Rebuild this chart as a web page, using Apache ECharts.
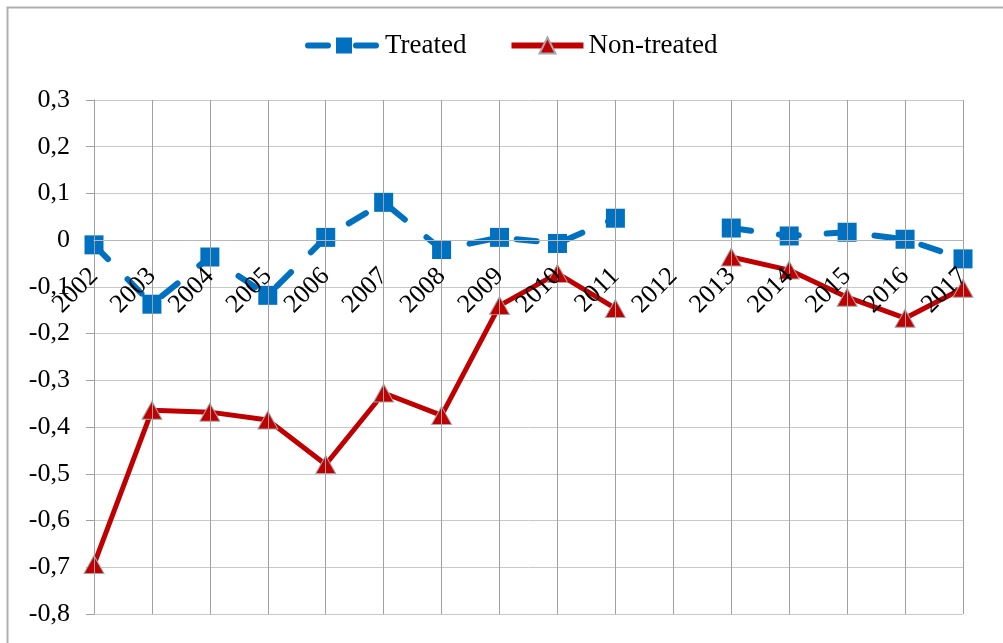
<!DOCTYPE html>
<html>
<head>
<meta charset="utf-8">
<script src="https://cdn.jsdelivr.net/npm/echarts@6/dist/echarts.min.js"></script>
<style>html,body{margin:0;padding:0;background:#fff}#c{width:1003px;height:643px}</style>
</head>
<body>
<div id="c"></div>
<script>
var years = ['2002','2003','2004','2005','2006','2007','2008','2009','2010','2011','2012','2013','2014','2015','2016','2017'];
var treated = [-0.010,-0.137,-0.036,-0.118,0.006,0.081,-0.020,0.006,-0.007,0.047,null,0.026,0.009,0.017,0.002,-0.040];
var nonTreated = [-0.694,-0.364,-0.368,-0.385,-0.480,-0.327,-0.375,-0.140,-0.071,-0.146,null,-0.036,-0.064,-0.122,-0.167,-0.103];
var yMin = -0.8, yMax = 0.3, yStep = 0.1;

var FONT = 'Liberation Serif';
var GRID_TOP = 100, GRID_BOTTOM = 29, H = 643;
var plotH = H - GRID_TOP - GRID_BOTTOM;
var zeroOffset = -plotH * (0 - yMin) / (yMax - yMin);

var chart = echarts.init(document.getElementById('c'));
chart.setOption({
  animation: false,
  backgroundColor: '#fff',
  graphic: [{
    type: 'rect', left: 5, top: 5, silent: true,
    shape: {width: 1100, height: 700},
    style: {fill: 'none', stroke: '#b0b0b0', lineWidth: 2}
  }],
  legend: {
    top: 27, left: 300, itemWidth: 72, itemHeight: 20, itemGap: 42,
    textStyle: {fontFamily: FONT, fontSize: 27, color: '#000'},
    data: [
      {name: 'Treated', lineStyle: {width: 6}},
      {name: 'Non-treated', lineStyle: {width: 6}}
    ]
  },
  grid: {left: 94, right: 40, top: GRID_TOP, bottom: GRID_BOTTOM, outerBoundsMode: 'none', containLabel: false},
  xAxis: {
    type: 'category', data: years, boundaryGap: false, z: 5,
    position: 'bottom', offset: zeroOffset,
    axisLine: {onZero: false, lineStyle: {color: '#b8b8b8', width: 1}},
    axisTick: {show: false},
    axisLabel: {rotate: 45, margin: 32, fontFamily: FONT, fontSize: 26, color: '#000', interval: 0},
    splitLine: {show: true, lineStyle: {color: '#a0a0a0', width: 1}}
  },
  yAxis: {
    type: 'value', min: yMin, max: yMax, interval: yStep,
    axisLine: {show: true, lineStyle: {color: '#a0a0a0'}},
    axisTick: {show: true, length: 8, lineStyle: {color: '#a0a0a0'}},
    axisLabel: {margin: 24, fontFamily: FONT, fontSize: 26, color: '#000',
      formatter: function (v) { var r = Math.round(v * 10) / 10; return r === 0 ? '0' : r.toFixed(1).replace('.', ','); }},
    splitLine: {show: true, lineStyle: {color: '#c8c8c8', width: 1}}
  },
  series: [{
    name: 'Treated', type: 'line', data: treated, connectNulls: false,
    symbol: 'rect', symbolSize: 19,
    itemStyle: {color: '#0070C0'},
    lineStyle: {color: '#0070C0', width: 6, type: [20, 28], cap: 'round'}
  }, {
    name: 'Non-treated', type: 'line', data: nonTreated, connectNulls: false,
    symbol: 'triangle', symbolSize: [20, 18],
    itemStyle: {color: '#C00000', borderColor: '#a6a6a6', borderWidth: 1},
    lineStyle: {color: '#C00000', width: 5}
  }]
});
</script>
</body>
</html>
